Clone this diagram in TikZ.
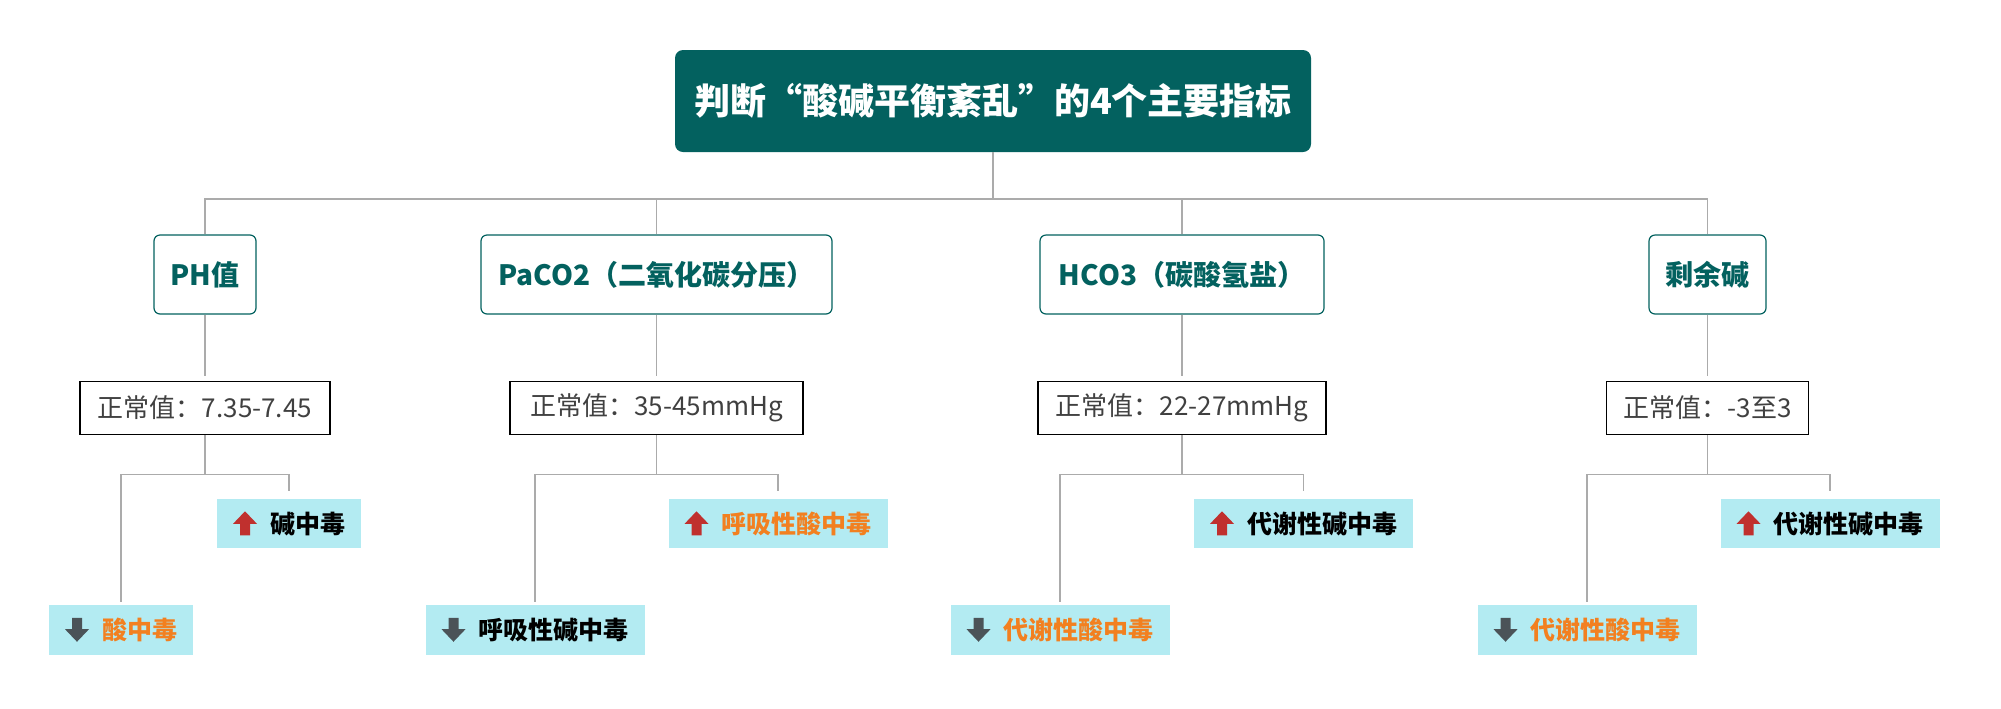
\documentclass[tikz,border=0pt]{standalone}
\usepackage{fontspec}
\setmainfont{Noto Sans CJK SC}
\usepackage{xcolor}
\usetikzlibrary{positioning}

\definecolor{headteal}{HTML}{03615F}
\definecolor{linegray}{HTML}{ABABAB}
\definecolor{leafcyan}{HTML}{B3EBF2}
\definecolor{acidorange}{HTML}{F28020}
\definecolor{arrowred}{HTML}{C0302E}
\definecolor{arrowgray}{HTML}{4B5358}
\definecolor{normgray}{HTML}{404040}

\newcommand{\uparr}{\tikz[x=1pt,y=1pt,baseline=1pt]\fill[arrowred] (-2.5,0) -- (-2.5,5.7) -- (-6,5.7) -- (0,12) -- (6,5.7) -- (2.5,5.7) -- (2.5,0) -- cycle;}
\newcommand{\downarr}{\tikz[x=1pt,y=1pt,baseline=1pt]\fill[arrowgray] (-2.5,12) -- (-2.5,6.3) -- (-6,6.3) -- (0,0) -- (6,6.3) -- (2.5,6.3) -- (2.5,12) -- cycle;}

\begin{document}
\begin{tikzpicture}[x=0.5pt,y=-0.5pt,node distance={33pt}]
	\tikzstyle{head} = [fill=headteal, rounded corners=4pt, text=white, font=\fontsize{18}{20}\selectfont\bfseries, minimum width=318pt, minimum height=51pt]
	\tikzstyle{index} = [draw=headteal, line width=0.6pt, rounded corners=3pt, fill=white, text=headteal, font=\fontsize{14}{16}\selectfont\bfseries, minimum height=39.5pt]
	\tikzstyle{normal} = [draw=black, line width=0.8pt, text=normgray, font=\fontsize{13}{15}\selectfont, minimum height=26.5pt]
	\tikzstyle{leaf} = [fill=leafcyan, font=\fontsize{12.5}{14}\selectfont\bfseries, minimum height=24.75pt, inner xsep=8pt]
	\tikzstyle{link} = [draw=linegray, line width=0.7pt]
	\useasboundingbox (0,0) rectangle (2001,708);
	\node[head] (top) at (993,101) {判断“酸碱平衡紊乱”的4个主要指标};
	\coordinate (bus) at (995,199);
	\node[index, minimum width=51pt] (ph) at (205,274.5) {PH值};
	\node[index, minimum width=175.5pt] (pco) at (656.5,274.5) {PaCO2（二氧化碳分压）};
	\node[index, minimum width=142pt] (hco) at (1182,274.5) {HCO3（碳酸氢盐）};
	\node[index, minimum width=58.5pt] (be) at (1707.5,274.5) {剩余碱};
	\node[normal, minimum width=125pt] (ph norm) [below=of ph] {正常值：7.35-7.45};
	\node[normal, minimum width=146.5pt] (pco norm) [below=of pco] {正常值：35-45mmHg};
	\node[normal, minimum width=144pt] (hco norm) [below=of hco] {正常值：22-27mmHg};
	\node[normal, minimum width=101pt] (be norm) [below=of be] {正常值：-3至3};
	\node[leaf] (ph up) at (289,523.5) {\uparr\hspace{6.5pt}碱中毒};
	\node[leaf] (ph down) at (121,630) {\downarr\hspace{6.5pt}\textcolor{acidorange}{酸中毒}};
	\node[leaf] (pco up) at (778,523.5) {\uparr\hspace{6.5pt}\textcolor{acidorange}{呼吸性酸中毒}};
	\node[leaf] (pco down) at (535,630) {\downarr\hspace{6.5pt}呼吸性碱中毒};
	\node[leaf] (hco up) at (1303.5,523.5) {\uparr\hspace{6.5pt}代谢性碱中毒};
	\node[leaf] (hco down) at (1060,630) {\downarr\hspace{6.5pt}\textcolor{acidorange}{代谢性酸中毒}};
	\node[leaf] (be up) at (1830,523.5) {\uparr\hspace{6.5pt}代谢性碱中毒};
	\node[leaf] (be down) at (1587,630) {\downarr\hspace{6.5pt}\textcolor{acidorange}{代谢性酸中毒}};
	% title to the four indicators
	\draw[link] (top.south) -- (top.south |- bus);
	\draw[link] (ph.north) -- (ph.north |- bus) -- (be.north |- bus) -- (be.north);
	\draw[link] (pco.north) -- (pco.north |- bus);
	\draw[link] (hco.north) -- (hco.north |- bus);
	% each indicator
	\foreach \k in {ph, pco, hco, be} {
		\coordinate (\k\space fork) at ([yshift=-19.5pt]\k\space norm.south);
		\draw[link, shorten >=2.5pt] (\k) -- (\k\space norm);
		\draw[link] (\k\space norm) -- (\k\space fork);
		\draw[link, shorten >=3.5pt] (\k\space fork) -| (\k\space up);
		\draw[link, shorten >=1.5pt] (\k\space fork) -| (\k\space down);
	}
\end{tikzpicture}
\end{document}
